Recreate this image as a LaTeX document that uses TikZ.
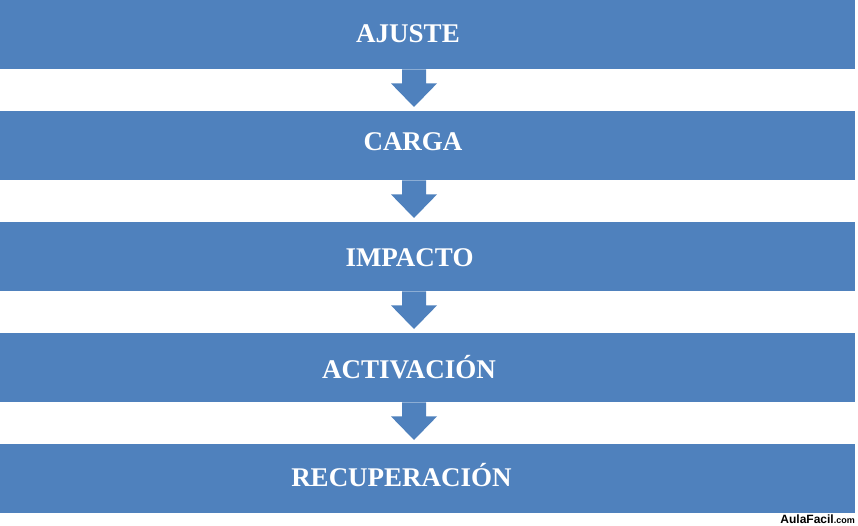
\documentclass[tikz,border=0pt]{standalone}
\usepackage{fontspec}
\setmainfont{Liberation Serif}
\newfontfamily\markfont{Liberation Sans}
\usepackage{xcolor}
\definecolor{barblue}{HTML}{4F81BD}
\usetikzlibrary{calc}

\begin{document}
\begin{tikzpicture}[x=1pt,y=-1pt,
  bar/.style={fill=barblue,inner sep=0pt,minimum width=855pt,minimum height=69pt,anchor=north west},
  barlabel/.style={text=white,anchor=base,inner sep=0pt,font=\bfseries\fontsize{27}{32}\selectfont}]
\useasboundingbox (0,0) rectangle (858,526);
% step bars
\node[bar] (ajuste) at (0,0) {};
\node[bar] (carga) at (0,111) {};
\node[bar] (impacto) at (0,222) {};
\node[bar] (activacion) at (0,333) {};
\node[bar] (recuperacion) at (0,444) {};
% labels
\node[barlabel] (lajuste) at (408,43) {AJUSTE};
\node[barlabel] (lcarga) at (413,151) {CARGA};
\node[barlabel] (limpacto) at (409.5,266) {IMPACTO};
\node[barlabel] (lactivacion) at (409,378) {ACTIVACIÓN};
\node[barlabel] (lrecuperacion) at (401.5,486) {RECUPERACIÓN};
% block arrows between bars
\foreach \u/\v in {ajuste/carga,carga/impacto,impacto/activacion,activacion/recuperacion}{
  \path (\u.south -| 414,0) coordinate (top) (\v.north -| 414,0) coordinate (tip);
  \fill[barblue] ($(top)+(-12,0)$) -- ($(top)+(-12,14)$) -- ($(top)+(-23,14)$)
    -- ($(tip)+(0,-4)$) -- ($(top)+(23,14)$) -- ($(top)+(12,14)$) -- ($(top)+(12,0)$) -- cycle;
}
% watermark
\node[anchor=base east,inner sep=0pt,font=\markfont\bfseries\fontsize{12}{14}\selectfont] (mark) at (855,523)
  {AulaFacil{\fontsize{9}{10}\selectfont.com}};
\end{tikzpicture}
\end{document}
